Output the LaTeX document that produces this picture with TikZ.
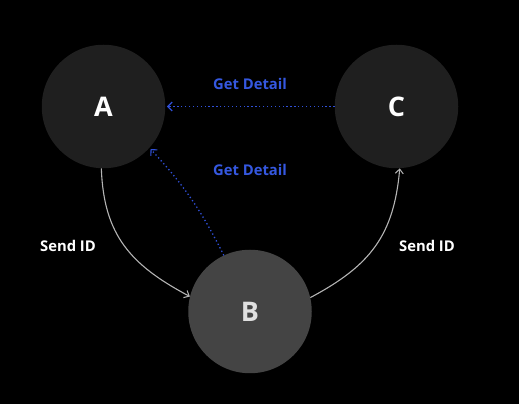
\documentclass[tikz,border=0pt]{standalone}
\usepackage{fontspec}
\setmainfont{Open Sans}
\newfontfamily\lblfont{Open Sans}
\usetikzlibrary{arrows.meta}
\definecolor{bluelbl}{HTML}{3558E0}
\definecolor{blueline}{HTML}{3050D8}
\definecolor{darknode}{HTML}{1F1F1F}
\definecolor{lightnode}{HTML}{444444}
\definecolor{grayline}{HTML}{B4B4B4}
\tikzset{
  circnode/.style={circle, minimum size=123.5pt, inner sep=0pt, fill=darknode, text=white, font=\lblfont\bfseries\fontsize{27}{30}\selectfont},
  circlight/.style={circnode, fill=lightnode, text=white!88!black},
  sendarrow/.style={draw=grayline, line width=1.1pt, -{Straight Barb[length=4.5pt,width=8pt,line width=1pt]}},
  getarrow/.style={draw=blueline, line width=1.3pt, dash pattern=on 1.3pt off 2.6pt, -{Straight Barb[length=4.5pt,width=9pt,line width=1.1pt]}},
  whitelbl/.style={text=white, font=\lblfont\bfseries\fontsize{14.8}{18}\selectfont},
  bluelabel/.style={text=bluelbl, font=\lblfont\bfseries\fontsize{14.8}{18}\selectfont}
}
\begin{document}
\begin{tikzpicture}[x=1pt,y=1pt]
\fill[black] (0,0) rectangle (519,404);
\useasboundingbox (0,0) rectangle (519,404);
\node[circnode] (A) at (103.5,297.5) {A};
\node[circnode] (C) at (396.5,297.5) {C};
\node[circlight] (B) at (250,92.5) {B};
\draw[sendarrow] (A.-92) to[out=-88, in=152, looseness=1.1] (B.166);
\draw[sendarrow] (B.13) to[out=28, in=-95, looseness=1.1] (C.-87);
\draw[getarrow, shorten >=1.5pt] (C.west) -- (A.east);
\draw[getarrow, shorten >=1.5pt] (B.115) to[bend right=8] (A.-42);
\node[whitelbl] (s1) at (68,158) {Send ID};
\node[whitelbl] (s2) at (427,158) {Send ID};
\node[bluelabel] (g1) at (250,320) {Get Detail};
\node[bluelabel] (g2) at (250,234) {Get Detail};
\end{tikzpicture}
\end{document}
